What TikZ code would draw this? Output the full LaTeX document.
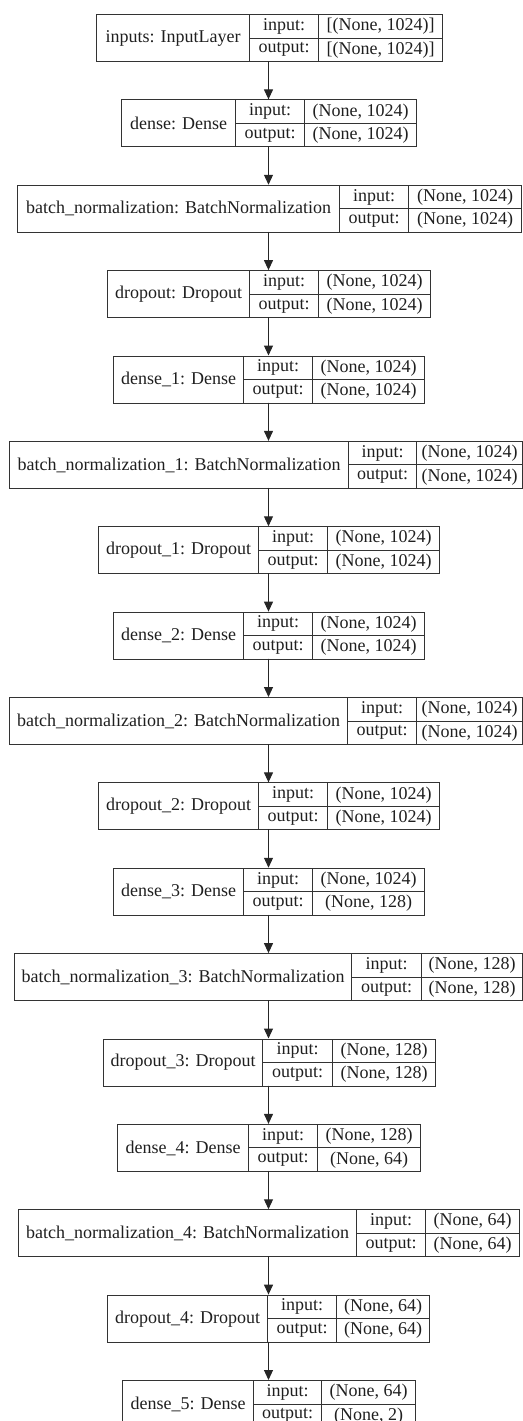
\documentclass[tikz,border=0pt]{standalone}
\usepackage{fontspec}
\setmainfont{Liberation Serif}
\usetikzlibrary{arrows.meta}

\begin{document}
\begin{tikzpicture}[x=.5pt,y=-.5pt,font=\fontsize{9}{11}\selectfont,>={Triangle[length=5pt,width=4.5pt]},
  cell/.style={draw=black!80,line width=.55pt,inner sep=0pt,anchor=north west,text=black!88},
  link/.style={->,line width=.55pt,draw=black!85,fill=black!85}]
  \useasboundingbox (0,0) rectangle (523,1421);
  \foreach \n/\L/\A/\B/\R/\lab/\vin/\vout in {
      1/96/249/318/442/{inputs: InputLayer}/{[(None, 1024)]}/{[(None, 1024)]},
      2/121/235/304/416/{dense: Dense}/{(None, 1024)}/{(None, 1024)},
      3/17/339/408/521/{batch\_normalization: BatchNormalization}/{(None, 1024)}/{(None, 1024)},
      4/107/249/318/430/{dropout: Dropout}/{(None, 1024)}/{(None, 1024)},
      5/113/243/312/424/{dense\_1: Dense}/{(None, 1024)}/{(None, 1024)},
      6/9/348/416/522/{batch\_normalization\_1: BatchNormalization}/{(None, 1024)}/{(None, 1024)},
      7/98/258/327/439/{dropout\_1: Dropout}/{(None, 1024)}/{(None, 1024)},
      8/113/243/312/424/{dense\_2: Dense}/{(None, 1024)}/{(None, 1024)},
      9/9/347/416/522/{batch\_normalization\_2: BatchNormalization}/{(None, 1024)}/{(None, 1024)},
      10/98/258/327/439/{dropout\_2: Dropout}/{(None, 1024)}/{(None, 1024)},
      11/113/243/312/424/{dense\_3: Dense}/{(None, 1024)}/{(None, 128)},
      12/14/351/421/522/{batch\_normalization\_3: BatchNormalization}/{(None, 128)}/{(None, 128)},
      13/103/262/332/435/{dropout\_3: Dropout}/{(None, 128)}/{(None, 128)},
      14/117/248/317/420/{dense\_4: Dense}/{(None, 128)}/{(None, 64)},
      15/18/356/425/519/{batch\_normalization\_4: BatchNormalization}/{(None, 64)}/{(None, 64)},
      16/107/267/336/429/{dropout\_4: Dropout}/{(None, 64)}/{(None, 64)},
      17/122/253/321/415/{dense\_5: Dense}/{(None, 64)}/{(None, 2)}}{
    \pgfmathsetmacro{\yt}{14+85.375*(\n-1)}
    \pgfmathsetmacro{\ym}{\yt+23.5}
    \pgfmathsetmacro{\wa}{(\A-\L)/2}
    \pgfmathsetmacro{\wb}{(\B-\A)/2}
    \pgfmathsetmacro{\wc}{(\R-\B)/2}
    \node[cell,minimum width=\wa pt,minimum height=23.5pt] (name\n) at (\L,\yt) {\lab};
    \node[cell,minimum width=\wb pt,minimum height=11.75pt] (in\n) at (\A,\yt) {input:};
    \node[cell,minimum width=\wb pt,minimum height=11.75pt] (out\n) at (\A,\ym) {output:};
    \node[cell,minimum width=\wc pt,minimum height=11.75pt] (inval\n) at (\B,\yt) {\vin};
    \node[cell,minimum width=\wc pt,minimum height=11.75pt] (outval\n) at (\B,\ym) {\vout};
    \coordinate (top\n) at (268.5,\yt);
    \coordinate (bot\n) at (268.5,\yt+47);
    \ifnum\n>1
      \pgfmathtruncatemacro{\prev}{\n-1}
      \draw[link] (bot\prev) -- (top\n);
    \fi
  }
\end{tikzpicture}
\end{document}
